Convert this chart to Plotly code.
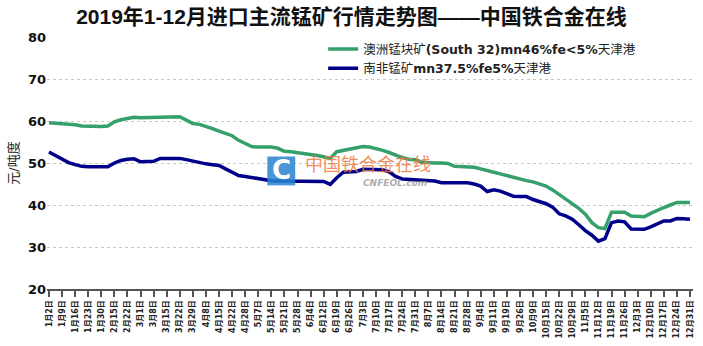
import plotly.graph_objects as go

title = "2019年1-12月进口主流锰矿行情走势图——中国铁合金在线"
y_title = "元/吨度"
name_green = "澳洲锰块矿<b>(South 32)mn46%fe&lt;5%</b>天津港"
name_blue = "南非锰矿<b>mn37.5%fe5%</b>天津港"

tick_labels = ["1月2日", "1月9日", "1月16日", "1月23日", "1月30日", "2月15日", "2月22日", "3月1日", "3月8日", "3月15日",
               "3月22日", "3月29日", "4月8日", "4月15日", "4月22日", "4月28日", "5月7日", "5月14日", "5月21日", "5月28日",
               "6月4日", "6月12日", "6月19日", "6月26日", "7月3日", "7月10日", "7月17日", "7月24日", "7月31日", "8月7日",
               "8月14日", "8月21日", "8月28日", "9月4日", "9月11日", "9月19日", "9月26日", "10月9日", "10月15日", "10月22日",
               "10月29日", "11月5日", "11月12日", "11月19日", "11月26日", "12月3日", "12月10日", "12月17日", "12月24日", "12月31日"]

# values sampled twice per tick interval
green = [59.6, 59.5, 59.2, 59.1, 59.1, 58.8, 58.7, 58.7, 58.7, 58.8,
         59.8, 60.3, 60.6, 60.9, 60.8, 60.8, 60.8, 61.0, 61.0, 61.0,
         61.0, 60.2, 59.4, 59.2, 58.8, 58.2, 57.6, 57.0, 56.5, 55.4,
         54.6, 53.9, 53.8, 53.8, 53.8, 53.5, 52.8, 52.7, 52.5, 52.4,
         52.0, 51.8, 51.5, 51.1, 52.7, 53.0, 53.2, 53.4, 53.9, 53.8,
         53.5, 53.0, 52.5, 51.8, 51.3, 50.9, 50.8, 50.2, 50.0, 50.0,
         50.0, 49.9, 49.2, 49.1, 49.1, 49.0, 48.6, 48.3, 47.8, 47.4,
         47.0, 46.4, 46.0, 45.8, 45.5, 45.0, 44.5, 43.6, 42.5, 41.4,
         40.2, 39.2, 37.8, 35.8, 34.6, 34.4, 38.3, 38.3, 38.3, 37.4,
         37.2, 37.2, 38.0, 38.8, 39.4, 40.0, 40.6, 40.6, 40.6]

blue = [52.6, 51.8, 50.8, 50.1, 49.6, 49.2, 49.1, 49.1, 49.1, 49.1,
        50.0, 50.6, 50.9, 51.0, 50.3, 50.3, 50.4, 51.1, 51.1, 51.1,
        51.1, 50.8, 50.4, 50.2, 49.8, 49.6, 49.4, 48.6, 47.8, 47.0,
        46.8, 46.5, 46.3, 46.1, 45.8, 45.7, 45.7, 45.7, 45.7, 45.7,
        45.7, 45.7, 45.6, 44.9, 46.5, 47.8, 47.9, 48.0, 48.5, 48.5,
        48.5, 48.4, 47.9, 46.8, 46.2, 46.1, 46.1, 46.1, 46.0, 45.7,
        45.3, 45.3, 45.3, 45.3, 45.3, 45.0, 44.5, 43.2, 43.6, 43.3,
        42.8, 42.1, 42.0, 42.0, 41.3, 40.9, 40.3, 39.5, 37.9, 37.4,
        36.6, 35.3, 33.9, 32.8, 31.4, 32.0, 35.8, 36.2, 36.0, 34.3,
        34.2, 34.2, 34.8, 35.6, 36.2, 36.2, 36.8, 36.7, 36.6]

x = [i / 2 for i in range(len(green))]

fig = go.Figure()
fig.add_trace(go.Scatter(x=x, y=green, mode="lines", name=name_green,
                         line=dict(color="#36a06c", width=3.5)))
fig.add_trace(go.Scatter(x=x, y=blue, mode="lines", name=name_blue,
                         line=dict(color="#00008b", width=3.5)))

W, H = 703, 346
ml, mr, mt, mb = 47, 8, 37, 56
pw, ph = W - ml - mr, H - mt - mb

def px(xp):
    return (xp - ml) / pw

def py(yp):
    return (H - mb - yp) / ph

# watermark
fig.add_shape(type="rect", xref="paper", yref="paper",
              x0=px(268), x1=px(296), y0=py(186), y1=py(157),
              fillcolor="rgba(40,130,210,0.85)", line=dict(width=0), layer="above")
fig.add_annotation(xref="paper", yref="paper", x=px(282), y=py(171), text="<b>C</b>",
                   showarrow=False, font=dict(family="DejaVu Sans", size=26, color="white"))
fig.add_annotation(xref="paper", yref="paper", x=px(369), y=py(164), text="中国铁合金在线",
                   showarrow=False, font=dict(family="Noto Sans CJK SC", size=18, color="rgba(240,120,60,0.85)"))
fig.add_annotation(xref="paper", yref="paper", x=px(396), y=py(184), text="<b><i>CNFEOL.com</i></b>",
                   showarrow=False, font=dict(family="DejaVu Sans", size=9, color="rgba(150,150,150,0.8)"))

fig.update_layout(
    width=W, height=H,
    margin=dict(l=ml, r=mr, t=mt, b=mb),
    paper_bgcolor="white", plot_bgcolor="white",
    title=dict(text="<b>" + title + "</b>", x=0.5, xanchor="center", y=1 - 17 / H, yanchor="middle",
               font=dict(family="Liberation Sans, Noto Sans CJK SC", size=21, color="#111")),
    font=dict(family="DejaVu Sans, Noto Sans CJK SC", color="#222"),
    showlegend=True,
    legend=dict(x=px(324), y=1.01, xanchor="left", yanchor="top", bgcolor="rgba(0,0,0,0)",
                font=dict(family="DejaVu Sans, Noto Sans CJK SC", size=12.5, color="#222"),
                itemwidth=30, tracegroupgap=0),
    xaxis=dict(range=[-0.15, 49.23], tickmode="array", tickvals=list(range(len(tick_labels))),
               ticktext=["<b>" + t + "</b>" for t in tick_labels], tickangle=-90,
               tickfont=dict(size=8, color="#222"), showgrid=False, zeroline=False,
               showline=True, linecolor="#555", linewidth=2, ticks="outside", ticklen=6,
               tickcolor="#555", tickwidth=1.5),
    yaxis=dict(range=[20, 80], dtick=10, tickfont=dict(size=13, color="#111"),
               tickprefix="<b>", ticksuffix="</b>",
               showgrid=True, gridcolor="#c8c8c8", griddash="dot", gridwidth=1,
               zeroline=False, showline=False, ticks="",
               title=dict(text=y_title, font=dict(size=13, color="#222"), standoff=6)),
)

fig.write_html("out.html")
